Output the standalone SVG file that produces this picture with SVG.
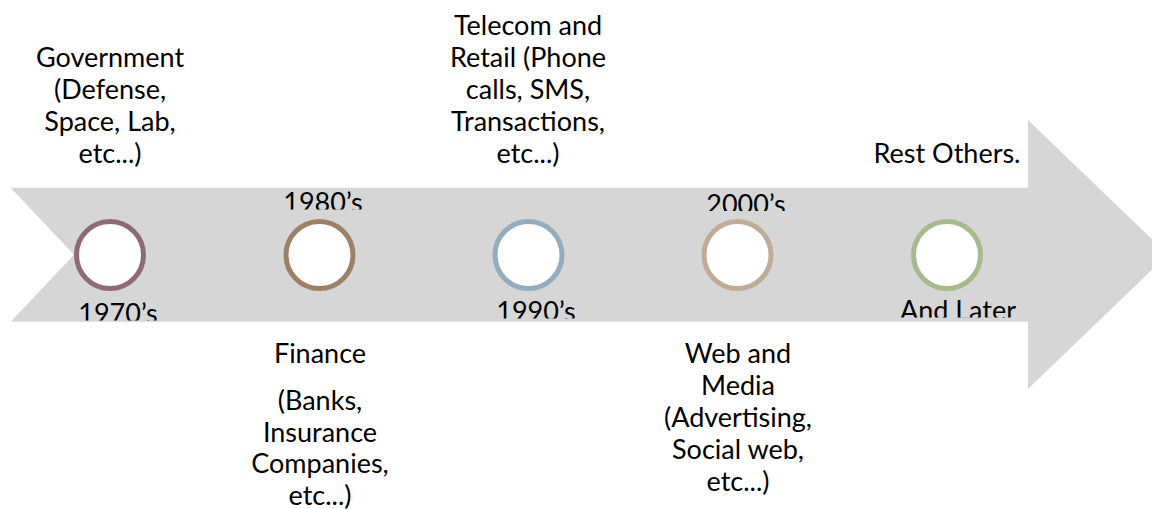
<svg xmlns="http://www.w3.org/2000/svg" width="1152" height="509" viewBox="0 0 1152 509">
<style>
text{font-family:Lato,"Open Sans","Liberation Sans",sans-serif;font-size:27px;fill:#000;text-anchor:middle}
.ring{fill:#fff;stroke-width:5}
</style>
<defs>
<clipPath id="c80"><rect x="250" y="180" width="150" height="29.5"/></clipPath>
<clipPath id="c00"><rect x="670" y="180" width="150" height="31"/></clipPath>
<clipPath id="c70"><rect x="40" y="290" width="150" height="30.5"/></clipPath>
<clipPath id="c90"><rect x="460" y="290" width="150" height="28.5"/></clipPath>
<clipPath id="cL"><rect x="880" y="290" width="160" height="27.5"/></clipPath>
</defs>
<g id="arrow">
<polygon points="10.7,187.7 1028,187.7 1028,120 1168,254.5 1028,389 1028,321.7 10.7,321.7 74,254.7" fill="#d6d6d6"/>
</g>
<g id="connectors"></g>
<g id="node-1970">
<circle class="ring" cx="110" cy="255" r="33.5" stroke="#8d6a76"/>
<text x="118" y="323" clip-path="url(#c70)">1970’s</text>
</g>
<g id="node-1980">
<circle class="ring" cx="319.5" cy="255" r="33.5" stroke="#9e8064"/>
<text x="323" y="212" clip-path="url(#c80)">1980’s</text>
</g>
<g id="node-1990">
<circle class="ring" cx="528.5" cy="255" r="33.5" stroke="#94adbe"/>
<text x="536" y="321" clip-path="url(#c90)">1990’s</text>
</g>
<g id="node-2000">
<circle class="ring" cx="737.5" cy="255" r="33.5" stroke="#bfac96"/>
<text x="746" y="214" clip-path="url(#c00)">2000’s</text>
</g>
<g id="node-later">
<circle class="ring" cx="947" cy="255" r="33.5" stroke="#a7ba8b"/>
<text x="958" y="320" clip-path="url(#cL)">And Later</text>
</g>
<g id="label-government">
<text x="110" y="66.5">Government</text>
<text x="110" y="98.5">(Defense,</text>
<text x="110" y="130.5">Space, Lab,</text>
<text x="110" y="162.5">etc...)</text>
</g>
<g id="label-telecom">
<text x="528" y="34.5">Telecom and</text>
<text x="528" y="66.5">Retail (Phone</text>
<text x="528" y="98.5">calls, SMS,</text>
<text x="528" y="130.5">Transactions,</text>
<text x="528" y="162.5">etc...)</text>
</g>
<g id="label-rest">
<text x="947" y="163">Rest Others.</text>
</g>
<g id="label-finance">
<text x="320" y="363">Finance</text>
<text x="320" y="410">(Banks,</text>
<text x="320" y="441.5">Insurance</text>
<text x="320" y="473">Companies,</text>
<text x="320" y="505">etc...)</text>
</g>
<g id="label-web">
<text x="738" y="363">Web and</text>
<text x="738" y="395">Media</text>
<text x="738" y="427">(Advertising,</text>
<text x="738" y="459">Social web,</text>
<text x="738" y="491">etc...)</text>
</g>
</svg>
